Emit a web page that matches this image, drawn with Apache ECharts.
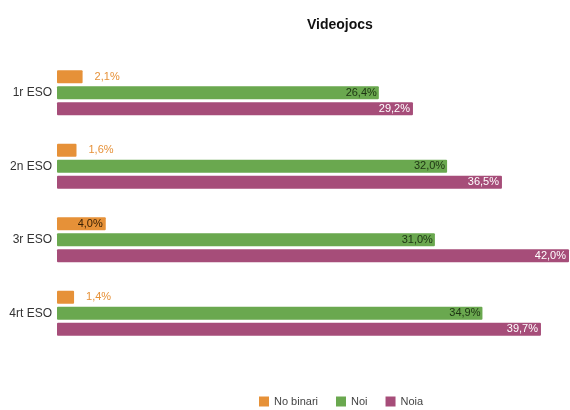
<!DOCTYPE html>
<html>
<head>
<meta charset="utf-8">
<script src="https://cdn.jsdelivr.net/npm/echarts@6/dist/echarts.min.js"></script>
<style>html,body{margin:0;padding:0;background:#fff}#c{width:570px;height:410px}</style>
</head>
<body>
<div id="c"></div>
<script>
const categories = ['1r ESO', '2n ESO', '3r ESO', '4rt ESO'];
const seriesNames = ['No binari', 'Noi', 'Noia'];
const noBinari = [2.1, 1.6, 4.0, 1.4];
const noi = [26.4, 32.0, 31.0, 34.9];
const noia = [29.2, 36.5, 42.0, 39.7];

const colors = ['#E69138', '#6AA84F', '#A64D79'];
const fmt = v => v.toFixed(1).replace('.', ',') + '%';
const font = 'Liberation Sans, Arial, sans-serif';

const chart = echarts.init(document.getElementById('c'), null, {renderer: 'canvas'});
chart.setOption({
  animation: false,
  color: colors,
  title: {
    text: 'Videojocs', left: 302, top: 13,
    textStyle: {fontSize: 14, fontWeight: 'bold', color: '#111', fontFamily: font}
  },
  legend: {
    data: seriesNames, left: 254, top: 391, icon: 'rect', itemWidth: 10, itemHeight: 10, itemGap: 18,
    textStyle: {fontSize: 11, color: '#444', fontFamily: font}
  },
  grid: {left: 57, top: 56, width: 512, height: 294, containLabel: false},
  xAxis: {type: 'value', min: 0, max: 42, show: false, splitLine: {show: false}},
  yAxis: {
    type: 'category', data: categories, inverse: true,
    axisLine: {show: false}, axisTick: {show: false},
    axisLabel: {fontSize: 12, color: '#333', margin: 5, fontFamily: font}
  },
  series: [
    {
      name: seriesNames[0], type: 'bar', barWidth: 13, barGap: '24%',
      itemStyle: {borderRadius: 1},
      data: noBinari.map(v => ({
        value: v,
        label: v < 3
          ? {show: true, position: 'right', distance: 12, color: '#E69138'}
          : {show: true, position: 'insideRight', distance: 3, color: '#3a2205'}
      })),
      label: {show: true, formatter: p => fmt(p.value), fontSize: 11, fontFamily: font}
    },
    {
      name: seriesNames[1], type: 'bar', barWidth: 13, barGap: '24%',
      itemStyle: {borderRadius: 1},
      data: noi,
      label: {show: true, position: 'insideRight', distance: 2, color: '#1d3313', fontSize: 11, fontFamily: font, formatter: p => fmt(p.value)}
    },
    {
      name: seriesNames[2], type: 'bar', barWidth: 13, barGap: '24%',
      itemStyle: {borderRadius: 1},
      data: noia,
      label: {show: true, position: 'insideRight', distance: 3, color: '#fff', fontSize: 11, fontFamily: font, formatter: p => fmt(p.value)}
    }
  ]
});
</script>
</body>
</html>
